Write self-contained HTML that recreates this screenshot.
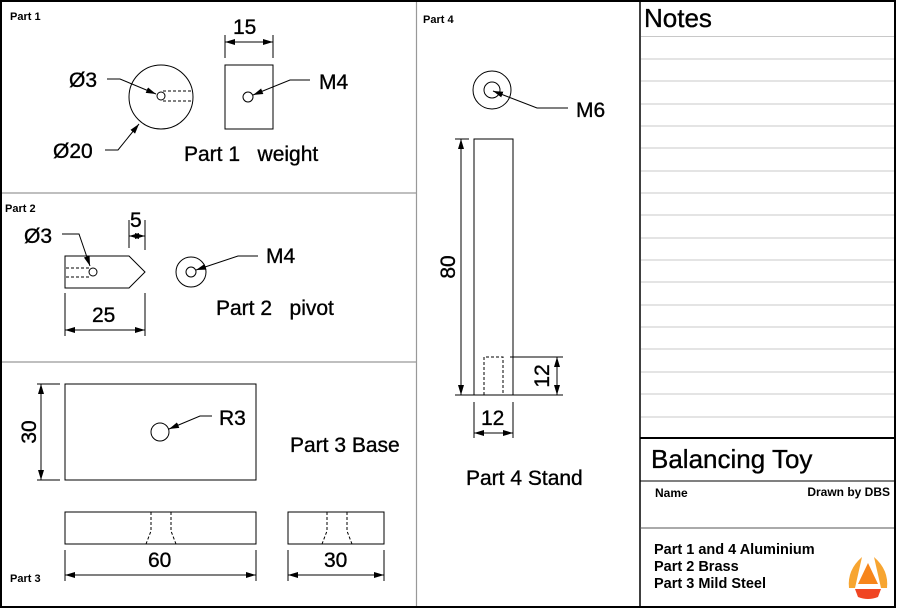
<!DOCTYPE html>
<html><head><meta charset="utf-8"><style>
html,body{margin:0;padding:0;background:#fff;}
svg{display:block;}
text{font-family:"Liberation Sans",Arial,sans-serif;fill:#000;white-space:pre;}
.big text{stroke:#000;stroke-width:0.35;}
</style></head><body>
<svg width="902" height="616" viewBox="0 0 902 616" xmlns="http://www.w3.org/2000/svg" xml:space="preserve">
<defs>
<marker id="a" viewBox="0 0 10 6" refX="10" refY="3" markerWidth="10" markerHeight="6" markerUnits="userSpaceOnUse" orient="auto-start-reverse"><path d="M0,0 L10,3 L0,6 z" fill="#000"/></marker>
</defs>
<rect width="902" height="616" fill="#fff"/>
<line x1="416.5" y1="1" x2="416.5" y2="607" stroke="#999" stroke-width="1.2"/>
<line x1="1" y1="193" x2="416" y2="193" stroke="#999" stroke-width="1.2"/>
<line x1="1" y1="362" x2="416" y2="362" stroke="#999" stroke-width="1.2"/>
<g stroke="#c8c8c8" stroke-width="1">
<line x1="641" y1="36.5" x2="895" y2="36.5"/><line x1="641" y1="59" x2="895" y2="59"/><line x1="641" y1="81" x2="895" y2="81"/><line x1="641" y1="104" x2="895" y2="104"/><line x1="641" y1="126" x2="895" y2="126"/><line x1="641" y1="148" x2="895" y2="148"/><line x1="641" y1="171" x2="895" y2="171"/><line x1="641" y1="193" x2="895" y2="193"/><line x1="641" y1="215" x2="895" y2="215"/><line x1="641" y1="238" x2="895" y2="238"/><line x1="641" y1="260" x2="895" y2="260"/><line x1="641" y1="282" x2="895" y2="282"/><line x1="641" y1="305" x2="895" y2="305"/><line x1="641" y1="327" x2="895" y2="327"/><line x1="641" y1="349" x2="895" y2="349"/><line x1="641" y1="372" x2="895" y2="372"/><line x1="641" y1="394" x2="895" y2="394"/><line x1="641" y1="417" x2="895" y2="417"/>
</g>
<line x1="640" y1="1" x2="640" y2="607" stroke="#000" stroke-width="1.5"/>
<line x1="640" y1="438" x2="895" y2="438" stroke="#000" stroke-width="2"/>
<line x1="640" y1="481" x2="895" y2="481" stroke="#000" stroke-width="1"/>
<line x1="640" y1="528" x2="895" y2="528" stroke="#555" stroke-width="1"/>
<rect x="1" y="1" width="894" height="606" fill="none" stroke="#000" stroke-width="2"/>

<g fill="none" stroke="#000" stroke-width="1">
<circle cx="161" cy="97" r="32"/>
<circle cx="161" cy="96" r="4"/>
<path d="M163,91 H192 M163,101 H192" stroke-dasharray="3,2"/>
<polyline points="107,79 120,79 156,94" marker-end="url(#a)"/>
<polyline points="105,150 118,150 139,124" marker-end="url(#a)"/>
<rect x="225" y="65" width="48" height="64"/>
<circle cx="248" cy="97" r="5"/>
<polyline points="310,80 290,80 253,95" marker-end="url(#a)"/>
<line x1="225" y1="35" x2="225" y2="58"/><line x1="273" y1="35" x2="273" y2="58"/>
<line x1="225" y1="42" x2="273" y2="42" marker-start="url(#a)" marker-end="url(#a)"/>
<path d="M65,256 H129 L145,272 L129,288 H65 Z"/>
<circle cx="93" cy="272" r="4"/>
<path d="M66,268 H89 M66,277 H89" stroke-dasharray="3,2"/>
<polyline points="62,234 79,234 90,266" marker-end="url(#a)"/>
<line x1="129" y1="220" x2="129" y2="248"/><line x1="145" y1="220" x2="145" y2="250"/>
<line x1="129" y1="236" x2="145" y2="236" marker-start="url(#a)" marker-end="url(#a)"/>
<line x1="65" y1="293" x2="65" y2="336"/><line x1="145" y1="293" x2="145" y2="336"/>
<line x1="65" y1="330" x2="145" y2="330" marker-start="url(#a)" marker-end="url(#a)"/>
<circle cx="191" cy="272" r="15"/><circle cx="191" cy="272" r="5"/>
<polyline points="258,256 238,256 196,270" marker-end="url(#a)"/>
<rect x="65" y="384" width="191" height="96"/>
<circle cx="160" cy="432" r="9"/>
<polyline points="212,416 200,416 169,429" marker-end="url(#a)"/>
<line x1="37" y1="384" x2="60" y2="384"/><line x1="37" y1="480" x2="60" y2="480"/>
<line x1="41" y1="384" x2="41" y2="480" marker-start="url(#a)" marker-end="url(#a)"/>
<rect x="65" y="512" width="191" height="32"/>
<path d="M151,512 V531 L146,544 M171,512 V531 L176,544" stroke-dasharray="3,2"/>
<rect x="288" y="512" width="96" height="32"/>
<path d="M327,512 V531 L322,544 M347,512 V531 L352,544" stroke-dasharray="3,2"/>
<line x1="65" y1="550" x2="65" y2="581"/><line x1="256" y1="550" x2="256" y2="581"/>
<line x1="65" y1="575" x2="256" y2="575" marker-start="url(#a)" marker-end="url(#a)"/>
<line x1="288" y1="550" x2="288" y2="581"/><line x1="384" y1="550" x2="384" y2="581"/>
<line x1="288" y1="575" x2="384" y2="575" marker-start="url(#a)" marker-end="url(#a)"/>
<circle cx="492" cy="90" r="19"/><circle cx="492" cy="90" r="8"/>
<polyline points="568,108 537,108 493,91" marker-end="url(#a)"/>
<rect x="474" y="139" width="39" height="256"/>
<line x1="455" y1="139" x2="469" y2="139"/><line x1="455" y1="395" x2="474" y2="395"/>
<line x1="461" y1="139" x2="461" y2="395" marker-start="url(#a)" marker-end="url(#a)"/>
<path d="M484,395 V357 H503 V395" stroke-dasharray="3,2"/>
<line x1="510" y1="357" x2="563" y2="357"/><line x1="513" y1="395" x2="563" y2="395"/>
<line x1="557" y1="357" x2="557" y2="395" marker-start="url(#a)" marker-end="url(#a)"/>
<line x1="474" y1="402" x2="474" y2="438"/><line x1="513" y1="402" x2="513" y2="438"/>
<line x1="474" y1="433" x2="513" y2="433" marker-start="url(#a)" marker-end="url(#a)"/>
</g>

<g font-weight="bold" font-size="11">
<text x="10" y="20">Part 1</text>
<text x="5" y="212">Part 2</text>
<text x="10" y="582">Part 3</text>
<text x="423" y="23">Part 4</text>
</g>
<g font-size="21" class="big">
<text x="69" y="87">Ø3</text>
<text x="53" y="158">Ø20</text>
<text x="233" y="34">15</text>
<text x="319" y="89">M4</text>
<text x="184" y="161">Part 1&#160;&#160; weight</text>
<text x="24" y="243">Ø3</text>
<text x="130" y="227">5</text>
<text x="92" y="322">25</text>
<text x="266" y="263">M4</text>
<text x="216" y="315">Part 2&#160;&#160; pivot</text>
<text x="219" y="425">R3</text>
<text x="290" y="452">Part 3 Base</text>
<text x="148" y="567">60</text>
<text x="324" y="567">30</text>
<text transform="translate(36,432) rotate(-90)" text-anchor="middle">30</text>
<text x="576" y="117">M6</text>
<text transform="translate(455,267) rotate(-90)" text-anchor="middle">80</text>
<text transform="translate(549,376) rotate(-90)" text-anchor="middle">12</text>
<text x="481" y="425">12</text>
<text x="466" y="485">Part 4 Stand</text>
</g>
<g class="big">
<text x="644" y="27" font-size="26">Notes</text>
<text x="651" y="468" font-size="26">Balancing Toy</text>
</g>
<text x="655" y="497" font-size="12" font-weight="bold">Name</text>
<text x="890" y="496" font-size="12" font-weight="bold" text-anchor="end">Drawn by DBS</text>
<g font-size="14.5" font-weight="bold">
<text x="654" y="554">Part 1 and 4 Aluminium</text>
<text x="654" y="571">Part 2 Brass</text>
<text x="654" y="588">Part 3 Mild Steel</text>
</g>
<path d="M862,557 Q847,570 849,588 L855,588 Z" fill="#f7a531"/>
<path d="M874,557 Q889,570 887,588 L881,588 Z" fill="#f7a531"/>
<path d="M868,563 L878,584 L858,584 Z" fill="#f7851b"/>
<path d="M855,589 H881 L878,597 Q868,601 858,597 Z" fill="#f04523"/>
</svg>
</body></html>
